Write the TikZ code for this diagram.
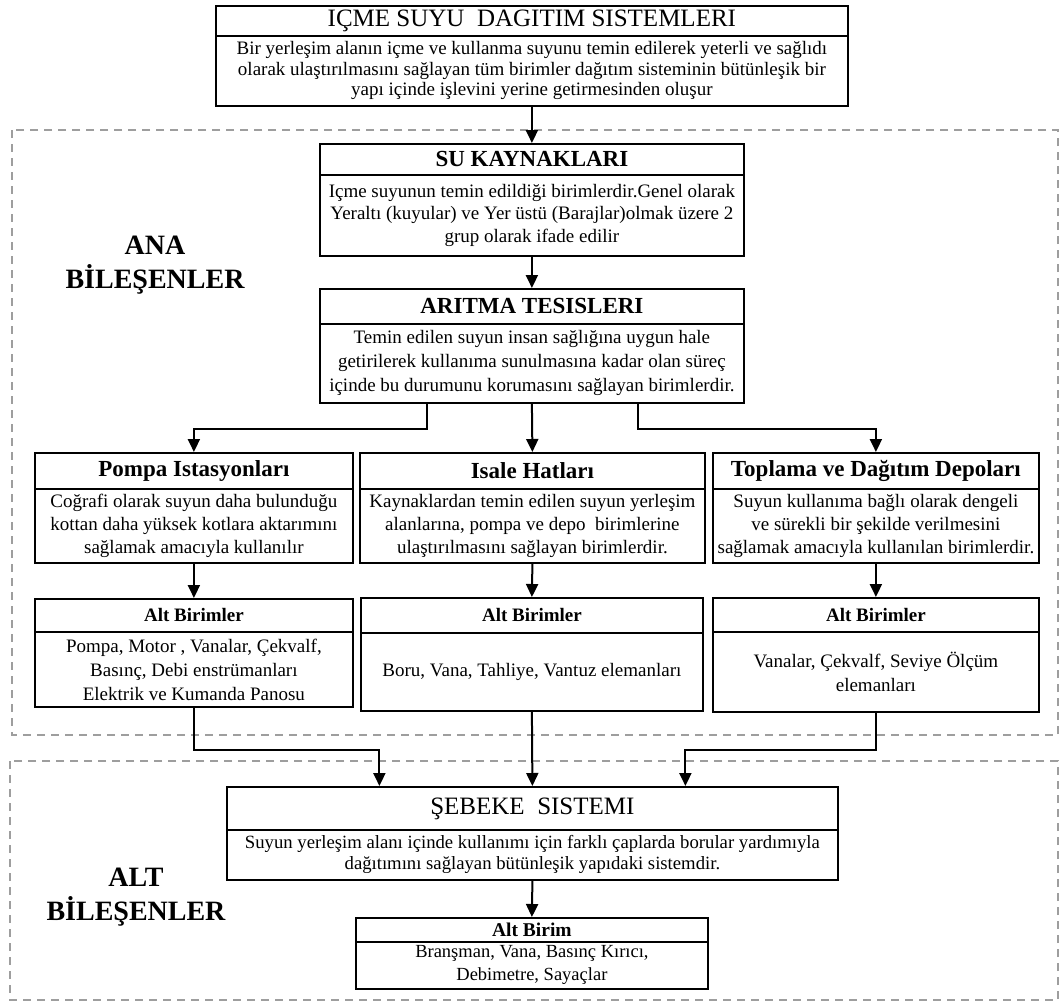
\documentclass[tikz,border=0pt]{standalone}
\usepackage{fontspec}
\setmainfont{Liberation Serif}
\usetikzlibrary{arrows.meta}
\begin{document}
\begin{tikzpicture}[x=1pt,y=-1pt,
  bx/.style={draw=black, line width=1.8pt, inner sep=0pt, anchor=north west, align=center, text=black},
  arr/.style={draw=black, line width=2pt, -{Triangle[length=13pt,width=12pt]}},
  grp/.style={draw=black!38, line width=2.2pt, dash pattern=on 8pt off 6pt},
  lbl/.style={inner sep=0pt, align=center, font=\bfseries\fontsize{28}{34}\selectfont},
  bigt/.style={font=\fontsize{25}{28}\selectfont},
  hdrt/.style={font=\bfseries\fontsize{23}{26}\selectfont},
  subt/.style={font=\bfseries\fontsize{19}{22}\selectfont},
  bodyt/.style={font=\fontsize{19}{#1}\selectfont}]
\useasboundingbox (0,0) rectangle (1063,1002);
% group frames
\draw[grp] (12,130) rectangle (1058,735);
\draw[grp] (10,761) rectangle (1058,1000);
\node[lbl] (ana) at (155,265) {ANA\\BİLEŞENLER};
\node[lbl] (alt) at (136,897) {ALT\\BİLEŞENLER};
% top
\node[bx, bigt, minimum width=632pt, minimum height=30pt] (th) at (215,5) {IÇME SUYU\ \ DAGITIM SISTEMLERI};
\node[bx, bodyt=20.5, minimum width=632pt, minimum height=70pt] (tb) at (215,35) {Bir yerleşim alanın içme ve kullanma suyunu temin edilerek yeterli ve sağlıdı\\olarak ulaştırılmasını sağlayan tüm birimler dağıtım sisteminin bütünleşik bir\\yapı içinde işlevini yerine getirmesinden oluşur};
% su kaynaklari
\node[bx, hdrt, minimum width=424pt, minimum height=31pt] (sh) at (319,143) {SU KAYNAKLARI};
\node[bx, bodyt=22.5, minimum width=424pt, minimum height=81pt] (sb) at (319,174) {Içme suyunun temin edildiği birimlerdir.Genel olarak\\Yeraltı (kuyular) ve Yer üstü (Barajlar)olmak üzere 2\\grup olarak ifade edilir};
% aritma
\node[bx, hdrt, minimum width=424pt, minimum height=35pt] (ah) at (319,288) {ARITMA TESISLERI};
\node[bx, bodyt=24, minimum width=424pt, minimum height=79pt] (ab) at (319,323) {Temin edilen suyun insan sağlığına uygun hale\\getirilerek kullanıma sunulmasına kadar olan süreç\\içinde bu durumunu korumasını sağlayan birimlerdir.};
% three columns
\node[bx, hdrt, minimum width=318pt, minimum height=36pt] (ph) at (34,452) {Pompa Istasyonları};
\node[bx, bodyt=23, minimum width=318pt, minimum height=74pt] (pb) at (34,488) {Coğrafi olarak suyun daha bulunduğu\\kottan daha yüksek kotlara aktarımını\\sağlamak amacıyla kullanılır};
\node[bx, hdrt, minimum width=345pt, minimum height=36pt] (ih) at (359,452) {Isale Hatları};
\node[bx, bodyt=23, minimum width=345pt, minimum height=74pt] (ib) at (359,488) {Kaynaklardan temin edilen suyun yerleşim\\alanlarına, pompa ve depo\ \ birimlerine\\ulaştırılmasını sağlayan birimlerdir.};
\node[bx, hdrt, minimum width=326pt, minimum height=36pt] (dh) at (712,452) {Toplama ve Dağıtım Depoları};
\node[bx, bodyt=23, minimum width=326pt, minimum height=74pt] (db) at (712,488) {Suyun kullanıma bağlı olarak dengeli\\ve sürekli bir şekilde verilmesini\\sağlamak amacıyla kullanılan birimlerdir.};
% alt birimler
\node[bx, subt, minimum width=318pt, minimum height=33pt] (pah) at (34,598) {Alt Birimler};
\node[bx, bodyt=24, minimum width=318pt, minimum height=75pt] (pab) at (34,631) {Pompa, Motor , Vanalar, Çekvalf,\\Basınç, Debi enstrümanları\\Elektrik ve Kumanda Panosu};
\node[bx, subt, minimum width=342pt, minimum height=35pt] (iah) at (360,597) {Alt Birimler};
\node[bx, bodyt=24, minimum width=342pt, minimum height=78pt] (iab) at (360,632) {Boru, Vana, Tahliye, Vantuz elemanları};
\node[bx, subt, minimum width=326pt, minimum height=34pt] (dah) at (712,597) {Alt Birimler};
\node[bx, bodyt=24, minimum width=326pt, minimum height=80pt] (dab) at (712,631) {Vanalar, Çekvalf, Seviye Ölçüm\\elemanları};
% sebeke
\node[bx, bigt, minimum width=611pt, minimum height=43pt] (seh) at (226,786) {ŞEBEKE\ \ SISTEMI};
\node[bx, font=\fontsize{18.7}{21}\selectfont, minimum width=611pt, minimum height=50pt] (seb) at (226,829) {Suyun yerleşim alanı içinde kullanımı için farklı çaplarda borular yardımıyla\\dağıtımını sağlayan bütünleşik yapıdaki sistemdir.};
\node[bx, font=\bfseries\fontsize{19.5}{22}\selectfont, minimum width=352pt, minimum height=24pt] (abh) at (355,917) {Alt Birim};
\node[bx, font=\fontsize{18.5}{23}\selectfont, minimum width=352pt, minimum height=47pt] (abb) at (355,941) {Branşman, Vana, Basınç Kırıcı,\\Debimetre, Sayaçlar};
% connectors
\draw[arr] (tb.south) -- (sh.north);
\draw[arr] (sb.south) -- (ah.north);
\draw[arr] ([xshift=-105pt]ab.south) -- ++(0,25) -| (ph.north);
\draw[arr] (ab.south) -- (ih.north);
\draw[arr] ([xshift=106pt]ab.south) -- ++(0,25) -| (dh.north);
\draw[arr] (pb.south) -- (pah.north);
\draw[arr] (ib.south) -- (iah.north);
\draw[arr] (db.south) -- (dah.north);
\draw[arr] (pab.south) -- ++(0,42) -| ([xshift=-153pt]seh.north);
\draw[arr] (iab.south) -- (seh.north);
\draw[arr] (dab.south) -- ++(0,37) -| ([xshift=153pt]seh.north);
\draw[arr] (seb.south) -- (abh.north);
\end{tikzpicture}
\end{document}
